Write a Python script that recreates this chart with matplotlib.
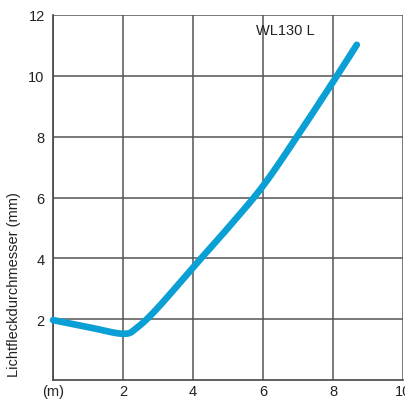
import matplotlib
matplotlib.use("Agg")
import matplotlib.pyplot as plt
import numpy as np

plt.rcParams['font.family'] = ['Liberation Sans', 'DejaVu Sans']

# data
dist_m = [0, 1, 2, 2.4, 3, 4, 5, 6, 7, 8, 8.68]
spot_mm = [1.97, 1.74, 1.52, 1.72, 2.38, 3.7, 5.0, 6.38, 8.05, 9.8, 11.02]
x_ticks = [0, 2, 4, 6, 8, 10]
x_ticklabels = ['(m)', '2', '4', '6', '8', '10']
y_ticks = [2, 4, 6, 8, 10, 12]
y_ticklabels = ['2', '4', '6', '8', '10', '12']
title_text = 'WL130 L'
y_label = 'Lichtfleckdurchmesser (mm)'

fig = plt.figure(figsize=(4.06, 4.02), dpi=100)
ax = fig.add_axes([53/406, 1-381/402, 350/406, 365/402])

xs = np.array(dist_m); ys = np.array(spot_mm)

# Catmull-Rom smoothing through the read points
def catmull(p):
    pts = [2*p[0]-p[1]] + list(p) + [2*p[-1]-p[-2]]
    out = []
    for i in range(1, len(pts) - 2):
        p0, p1, p2, p3 = pts[i-1], pts[i], pts[i+1], pts[i+2]
        for s in np.linspace(0, 1, 20, endpoint=False):
            out.append(0.5 * ((2*p1) + (-p0+p2)*s + (2*p0-5*p1+4*p2-p3)*s**2 + (-p0+3*p1-3*p2+p3)*s**3))
    out.append(p[-1])
    return np.array(out)
cx = catmull(xs); cy = catmull(ys)

ax.set_xlim(0, 10)
ax.set_ylim(0, 12)
ax.set_xticks(x_ticks)
ax.set_xticklabels(x_ticklabels)
ax.set_yticks(y_ticks)
ax.set_yticklabels(y_ticklabels)
ax.tick_params(length=0, labelsize=10.5, colors='#222222')
ax.tick_params(axis='x', pad=3)
ax.tick_params(axis='y', pad=6)
ax.grid(True, color='#555555', linewidth=1.1)
for s in ['top', 'right']:
    ax.spines[s].set_visible(False)
for s in ['left', 'bottom']:
    ax.spines[s].set_color('#444444')
    ax.spines[s].set_linewidth(1.2)
ax.set_axisbelow(True)
ax.plot(cx, cy, color='#0a9fd5', linewidth=4.8, solid_capstyle='round', clip_on=False, zorder=3)
for lbl in ax.get_xticklabels():
    lbl.set_clip_on(False)

ax.text(6.63, 11.5, title_text, fontsize=10.5, ha='center', va='center', color='#222222')
fig.text(14/406, 1-285/402, y_label, rotation=90, ha='center', va='center', fontsize=10.5, color='#222222')

fig.savefig('out.png', dpi=100)
